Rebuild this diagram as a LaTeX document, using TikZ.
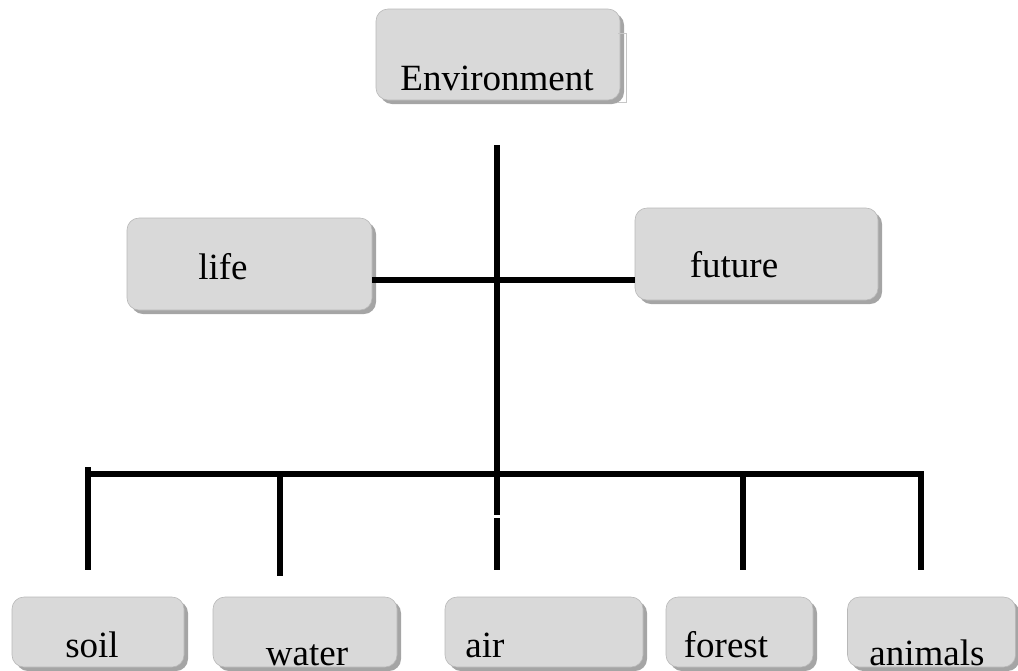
\documentclass[tikz,border=0pt]{standalone}
\usepackage{fontspec}
\setmainfont{Liberation Serif}
\usepackage{tikz}
\usetikzlibrary{positioning, shadows}

\definecolor{boxgray}{RGB}{217,217,217}
\definecolor{shadowgray}{RGB}{165,165,165}

\begin{document}
\begin{tikzpicture}[
	x=0.5pt, y=-0.5pt, % one unit = one pixel of the layout
	% Style for the boxes
	object/.style={
		rectangle,
		rounded corners=6pt,
		fill=boxgray,
		draw=boxgray!85!black,
		line width=0.3pt,
		drop shadow={shadow xshift=2pt, shadow yshift=-2pt, fill=shadowgray, opacity=1},
		inner sep=0pt
	},
	% Style for the box texts
	word/.style={
		anchor=base,
		inner sep=0pt,
		font=\fontsize{18.5}{22}\selectfont
	},
	% Style for the thick tree lines
	link/.style={
		line width=3pt,
		line cap=butt
	}
	]
	
	\useasboundingbox (0,0) rectangle (1018,670);
	
	% --- NODES (BOXES) ---
	
	% Root
	\node[object, minimum width=122pt, minimum height=45.5pt,
		label={[word, xshift=-0.5pt, yshift=-11.75pt]center:Environment}] (env) at (498,54.5) {};
	\draw[gray!45, line width=0.4pt] (618,33) -- (626,33) -- (626,102) -- (618,102);
	
	% Middle level
	\node[object, minimum width=122.5pt, minimum height=46pt,
		label={[word, xshift=-13.25pt, yshift=-1.5pt]center:life}] (life) at (249.5,264) {};
	\node[object, minimum width=121.5pt, minimum height=46pt,
		label={[word, xshift=-11.25pt, yshift=-5.5pt]center:future}] (future) at (756.5,254) {};
	
	% Bottom level
	\node[object, minimum width=86pt, minimum height=35pt,
		label={[word, xshift=-3pt, yshift=-6.5pt]center:soil}] (soil) at (98,632) {};
	\node[object, minimum width=92pt, minimum height=35pt,
		label={[word, xshift=1pt, yshift=-11.5pt]center:water}] (water) at (305,632) {};
	\node[object, minimum width=99pt, minimum height=35pt,
		label={[word, xshift=-29.5pt, yshift=-6.5pt]center:air}] (air) at (544,632) {};
	\node[object, minimum width=73.5pt, minimum height=35pt,
		label={[word, xshift=-6.75pt, yshift=-6.5pt]center:forest}] (forest) at (739.5,632) {};
	\node[object, minimum width=84pt, minimum height=35pt,
		label={[word, xshift=-2.25pt, yshift=-10.5pt]center:animals}] (animals) at (931.5,632) {};
	
	% --- COORDINATES ---
	
	\coordinate (stem) at (497,145);
	\coordinate (hub) at (497,280);
	\coordinate (cut) at (497,515);
	\coordinate (airtop) at (497,518);
	\coordinate (airend) at (497,570);
	\coordinate (barleft) at (88,474);
	\coordinate (barright) at (922,474);
	
	% --- EDGES (LINES) ---
	
	% Trunk
	\draw[link] (stem) -- (cut);
	\draw[link] (airtop) -- (airend);
	
	% Branches to life and future
	\draw[link] (life.east |- hub) -- (future.west |- hub);
	
	% Bar for the bottom level
	\draw[link] (barleft) -- (barright);
	
	% Drops to the bottom level
	\foreach \name/\xpos/\ytop/\ybot in {soil/88/467/570, water/280/474/576, forest/743/474/570, animals/921/471/570}{
		\coordinate (\name-top) at (\xpos,\ytop);
		\coordinate (\name-end) at (\xpos,\ybot);
		\draw[link] (\name-top) -- (\name-end);
	}
	
\end{tikzpicture}
\end{document}
